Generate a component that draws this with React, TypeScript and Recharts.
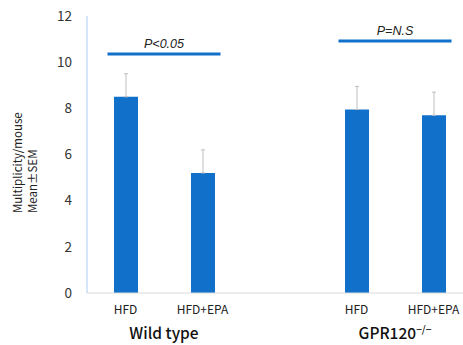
import React from 'react'
import { BarChart, Bar, XAxis, YAxis, ErrorBar, ReferenceLine, ReferenceArea } from 'recharts'

// one slot per bar, plus an empty slot between the two mouse groups
const categories = ['wt-hfd', 'wt-epa', 'gap', 'ko-hfd', 'ko-epa']
const tickLabels = ['HFD', 'HFD+EPA', '', 'HFD', 'HFD+EPA']
const means = [8.5, 5.2, null, 7.95, 7.7]
const sems = [1.0, 1.0, null, 1.0, 1.0]
const yTicks = [0, 2, 4, 6, 8, 10, 12]

const groups = [
  { from: 'wt-hfd', to: 'wt-epa', name: 'Wild type', sup: '' },
  { from: 'ko-hfd', to: 'ko-epa', name: 'GPR120', sup: '\u2212/\u2212' },
]
const sigBars = [
  { from: 'wt-hfd', to: 'wt-epa', y: 10.35, text: 'P<0.05' },
  { from: 'ko-hfd', to: 'ko-epa', y: 10.92, text: 'P=N.S' },
]

const data = categories.map((c, i) => ({
  key: c,
  label: tickLabels[i],
  mean: means[i],
  err: sems[i] == null ? undefined : [0, sems[i]],
}))

const BLUE = '#1170c9'
const FONT = '"Noto Sans CJK JP", "Liberation Sans", Arial, sans-serif'

const sigShape = (text: string) => (props: any) => {
  const { x1, y1, x2, y2 } = props
  const ext = 18
  return (
    <g>
      <line x1={x1 - ext} y1={y1} x2={x2 + ext} y2={y2} stroke={BLUE} strokeWidth={3} />
      <text x={(x1 + x2) / 2} y={y1 - 6} textAnchor="middle" fontSize={12.5} fontStyle="italic"
        fontFamily="'Liberation Sans', Arial, sans-serif" fill="#222">
        {text}
      </text>
    </g>
  )
}

const groupLabel = (name: string, sup: string) => (props: any) => {
  const vb = props.viewBox
  const cx = vb.x + vb.width / 2
  return (
    <text x={cx} y={vb.y + vb.height + 46} textAnchor="middle" fontSize={15.5} fontWeight={500}
      fontFamily={FONT} fill="#111">
      {name}
      {sup ? <tspan dy={-6} fontSize={10}>{sup}</tspan> : null}
    </text>
  )
}

const yLabel = (props: any) => {
  const vb = props.viewBox
  const bottom = vb.y + vb.height - 80
  return (
    <g fontFamily={FONT} fontSize={11.5} fill="#222">
      <text x={22} y={bottom} transform={`rotate(-90 22 ${bottom})`}>Multiplicity/mouse</text>
      <text x={37} y={bottom} transform={`rotate(-90 37 ${bottom})`}>Mean±SEM</text>
    </g>
  )
}

export default function App() {
  return (
    <div style={{ position: 'fixed', left: 0, top: 0, width: 463, height: 345, overflow: 'hidden', background: '#fff' }}>
      <BarChart width={480} height={345} data={data} margin={{ top: 16, right: 8, bottom: 0, left: 0 }}>
        <XAxis dataKey="key" height={52} tickLine={false} axisLine={{ stroke: '#d9d9d9' }}
          tickFormatter={(v: string) => tickLabels[categories.indexOf(v)]} interval={0}
          tick={{ fontSize: 12, fill: '#222', fontFamily: FONT }} tickMargin={6} />
        <YAxis width={87} domain={[0, 12]} ticks={yTicks} tickLine={false} axisLine={{ stroke: '#a9cdf2' }}
          tick={{ fontSize: 13.5, fill: '#333', fontFamily: FONT }} tickMargin={9} label={{ content: yLabel }} />
        {groups.map(g => (
          <ReferenceArea key={g.name} x1={g.from} x2={g.to} fill="none" stroke="none" fillOpacity={0}
            ifOverflow="visible" label={{ content: groupLabel(g.name, g.sup) }} />
        ))}
        <Bar dataKey="mean" fill={BLUE} barSize={24} isAnimationActive={false}>
          <ErrorBar dataKey="err" stroke="#bfbfbf" strokeWidth={1} width={2} direction="y" />
        </Bar>
        {sigBars.map(s => (
          <ReferenceLine key={s.text} segment={[{ x: s.from, y: s.y }, { x: s.to, y: s.y }]}
            ifOverflow="visible" shape={sigShape(s.text)} />
        ))}
      </BarChart>
    </div>
  )
}
